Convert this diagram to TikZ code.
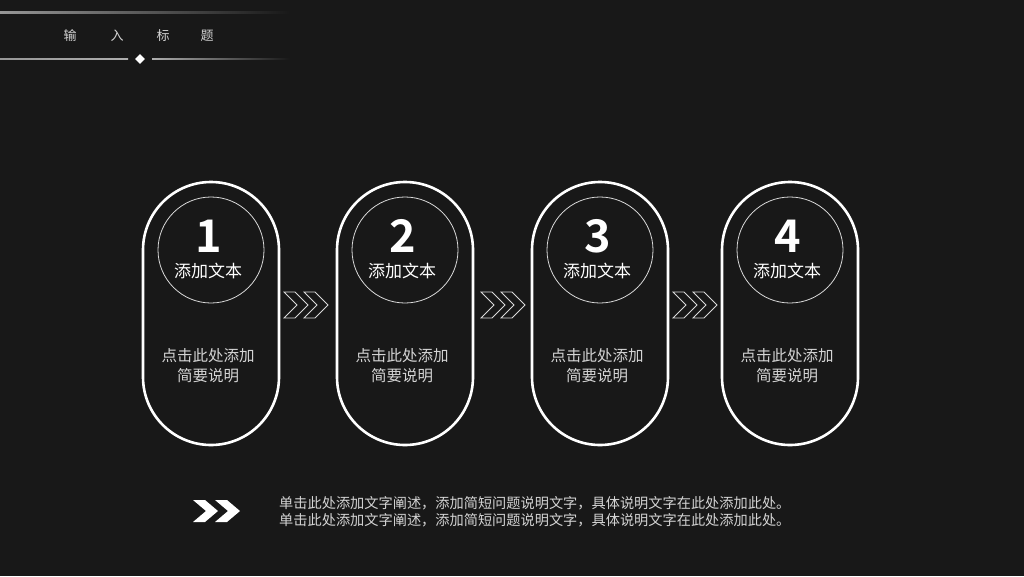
\documentclass[tikz,border=0pt]{standalone}
\usepackage{fontspec}
\setmainfont{Noto Sans CJK SC}
\newfontfamily\numfont{Noto Sans CJK SC Bold}
\usetikzlibrary{shapes.geometric}
\definecolor{bg}{HTML}{181818}
\definecolor{txt}{HTML}{D4D4D4}
\tikzset{
  x=1pt,y=-1pt,
  capsule/.style={draw=white,line width=2.6pt,rounded corners=68pt,minimum width=136pt,minimum height=263pt,inner sep=0pt},
  ring/.style={draw=white!85!black,line width=0.8pt,circle,minimum size=106pt,inner sep=0pt},
  num/.style={text=white,font=\numfont\fontsize{45}{45}\selectfont,inner sep=0pt},
  ttl/.style={text=white,font=\fontsize{17}{18}\selectfont,inner sep=0pt},
  desc/.style={text=txt,font=\fontsize{15.5}{20}\selectfont,align=center,inner sep=0pt},
  chev/.style={draw=white!85!black,line width=0.8pt,line join=miter},
  body/.style={text=txt,font=\fontsize{14.2}{17}\selectfont,align=left,anchor=west,inner sep=0pt},
  head/.style={text=txt,font=\fontsize{13}{13}\selectfont,inner sep=0pt}
}
\begin{document}
\begin{tikzpicture}
\fill[bg] (0,0) rectangle (1024,576);
\useasboundingbox (0,0) rectangle (1024,576);
% header
\shade[left color=white!55!bg,middle color=white!80!bg,right color=bg] (0,11) rectangle (290,13);
\shade[left color=white!55!bg,right color=white!65!bg] (0,58.3) rectangle (128,59.7);
\shade[left color=white!65!bg,right color=bg] (152,58.3) rectangle (290,59.7);
\node[diamond,fill=white,minimum size=10pt,inner sep=0pt] (dia) at (140,59) {};
\node[head] (t1) at (70,36) {输};
\node[head] (t2) at (117,36) {入};
\node[head] (t3) at (163,36) {标};
\node[head] (t4) at (207,36) {题};
% steps
\foreach \i/\cx in {1/211,2/405,3/600,4/790}{
  \node[capsule] (cap\i) at (\cx,313.5) {};
  \node[ring] (ring\i) at (\cx,250) {};
  \node[num] (num\i) at (\cx-2,236) {\i};
  \node[ttl] (ttl\i) at (\cx-3,271) {添加文本};
  \node[desc] (desc\i) at (\cx-3,366) {点击此处添加\\简要说明};
}
% chevrons between steps
\foreach \j/\sx in {1/284,2/481,3/673}{
  \foreach \k in {0,20}{
    \draw[chev] (\sx+\k,292) -- (\sx+\k+11,292) -- (\sx+\k+24,305) -- (\sx+\k+11,318) -- (\sx+\k,318) -- (\sx+\k+13,305) -- cycle;
  }
}
% bottom arrow
\foreach \k in {0,22}{
  \fill[white] (193+\k,500) -- (205+\k,500) -- (218+\k,511) -- (205+\k,522) -- (193+\k,522) -- (206+\k,511) -- cycle;
}
\node[body] (note) at (279,511.5) {单击此处添加文字阐述，添加简短问题说明文字，具体说明文字在此处添加此处。\\单击此处添加文字阐述，添加简短问题说明文字，具体说明文字在此处添加此处。};
\end{tikzpicture}
\end{document}
